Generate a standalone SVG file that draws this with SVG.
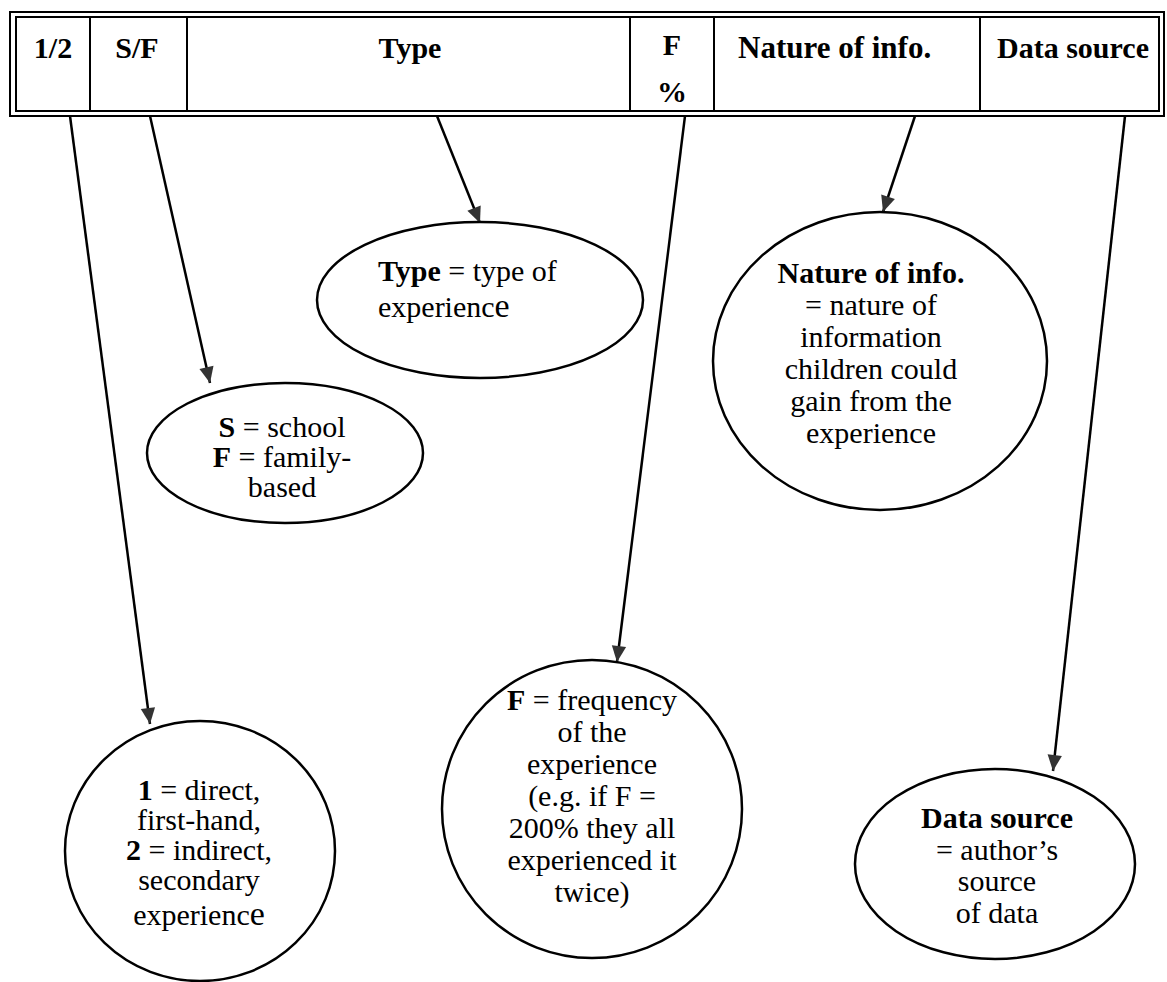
<svg xmlns="http://www.w3.org/2000/svg" width="1167" height="982" viewBox="0 0 1167 982">
<defs>
<marker id="ah" viewBox="0 0 10 10" refX="10" refY="5" markerWidth="18" markerHeight="16" markerUnits="userSpaceOnUse" orient="auto">
<path d="M0,0.5 L10,5 L0,9.5 z" fill="#333"/>
</marker>
<style>
.hd{font-family:"Liberation Serif","Times New Roman",serif;font-weight:bold;font-size:30px;fill:#000;text-anchor:middle}
.tx{font-family:"Liberation Serif","Times New Roman",serif;font-size:30px;fill:#000;text-anchor:middle}
.b{font-weight:bold}
.big{font-size:34px}
.node{fill:#fff;stroke:#000;stroke-width:2.5}
.conn{stroke:#000;stroke-width:2.5;fill:none;marker-end:url(#ah)}
.frame{fill:none;stroke:#000;stroke-width:2}
.div{stroke:#000;stroke-width:2}
</style>
</defs>
<rect width="1167" height="982" fill="#fff"/>
<g id="table">
<rect class="frame" x="10" y="12" width="1154" height="104"/>
<rect class="frame" x="16" y="17" width="1143" height="94"/>
<line class="div" x1="90" y1="17" x2="90" y2="111"/>
<line class="div" x1="187" y1="17" x2="187" y2="111"/>
<line class="div" x1="630" y1="17" x2="630" y2="111"/>
<line class="div" x1="714" y1="17" x2="714" y2="111"/>
<line class="div" x1="980" y1="17" x2="980" y2="111"/>
<text class="hd" x="53" y="58">1/2</text>
<text class="hd" x="137" y="58">S/F</text>
<text class="hd" x="410" y="58">Type</text>
<text class="hd" x="672" y="55">F</text>
<text class="hd" x="672" y="102">%</text>
<text class="hd" x="738" y="58" style="text-anchor:start;font-size:31px">Nature of info.</text>
<text class="hd" x="1073" y="58">Data source</text>
</g>
<g id="connectors">
<line class="conn" x1="70" y1="116" x2="150" y2="724"/>
<line class="conn" x1="150" y1="116" x2="210" y2="383"/>
<line class="conn" x1="437" y1="116" x2="480" y2="223"/>
<line class="conn" x1="685" y1="116" x2="617" y2="662"/>
<line class="conn" x1="915" y1="116" x2="883" y2="212"/>
<line class="conn" x1="1125" y1="116" x2="1053" y2="771"/>
</g>
<g id="node-sf">
<ellipse class="node" cx="285" cy="453" rx="138" ry="70"/>
<text class="tx" x="282" y="437"><tspan class="b">S</tspan> = school</text>
<text class="tx" x="282" y="467"><tspan class="b">F</tspan> = family-</text>
<text class="tx" x="282" y="497">based</text>
</g>
<g id="node-type">
<ellipse class="node" cx="480" cy="300" rx="163" ry="78"/>
<text class="tx" x="378" y="281" style="text-anchor:start"><tspan class="b">Type</tspan> = type of</text>
<text class="tx" x="378" y="317" style="text-anchor:start">experienc<tspan class="big">e</tspan></text>
</g>
<g id="node-nature">
<ellipse class="node" cx="880" cy="361" rx="167" ry="149"/>
<text class="tx b" x="871" y="283">Nature of info.</text>
<text class="tx" x="871" y="315">= nature of</text>
<text class="tx" x="871" y="347">information</text>
<text class="tx" x="871" y="379">children could</text>
<text class="tx" x="871" y="411">gain from the</text>
<text class="tx" x="871" y="443">experience</text>
</g>
<g id="node-12">
<ellipse class="node" cx="200" cy="851" rx="135" ry="130"/>
<text class="tx" x="199" y="800"><tspan class="b">1</tspan> = direct,</text>
<text class="tx" x="199" y="830">first-hand,</text>
<text class="tx" x="199" y="860"><tspan class="b">2</tspan> = indirect,</text>
<text class="tx" x="199" y="890">secondary</text>
<text class="tx" x="199" y="925">experienc<tspan class="big">e</tspan></text>
</g>
<g id="node-f">
<ellipse class="node" cx="592" cy="809" rx="150" ry="149"/>
<text class="tx" x="592" y="710"><tspan class="b">F</tspan> = frequency</text>
<text class="tx" x="592" y="742">of the</text>
<text class="tx" x="592" y="774">experience</text>
<text class="tx" x="592" y="806">(e.g. if F =</text>
<text class="tx" x="592" y="838">200% they all</text>
<text class="tx" x="592" y="870">experienced it</text>
<text class="tx" x="592" y="902">twice)</text>
</g>
<g id="node-ds">
<ellipse class="node" cx="995" cy="864" rx="140" ry="95"/>
<text class="tx b" x="997" y="828">Data source</text>
<text class="tx" x="997" y="860">= author’s</text>
<text class="tx" x="997" y="891">source</text>
<text class="tx" x="997" y="923">of data</text>
</g>
</svg>
